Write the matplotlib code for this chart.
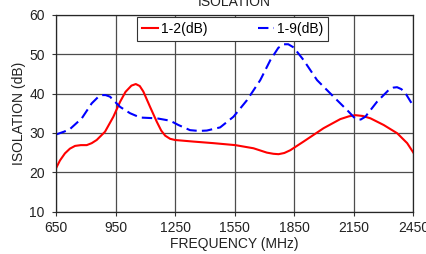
import matplotlib
matplotlib.use("Agg")
import matplotlib.pyplot as plt

# > Data
freq_12 = [650, 670, 695, 720, 746, 775, 805, 830, 855, 897, 939, 973, 1000,
           1030, 1052, 1072, 1090, 1124, 1158, 1180, 1200, 1225, 1250, 1342,
           1443, 1553, 1645, 1712, 1745, 1771, 1800, 1830, 1897, 1998, 2082,
           2125, 2158, 2195, 2234, 2301, 2369, 2419, 2450]
iso_12 = [21.0, 23.0, 24.8, 26.0, 26.7, 26.9, 26.9, 27.4, 28.2, 30.3, 34.1,
          37.9, 40.4, 42.0, 42.4, 41.9, 40.5, 36.6, 32.8, 30.6, 29.3, 28.5,
          28.2, 27.8, 27.4, 26.9, 26.1, 25.0, 24.7, 24.6, 24.9, 25.6, 27.8,
          31.2, 33.5, 34.2, 34.5, 34.3, 33.7, 32.0, 29.9, 27.4, 25.0]

freq_19 = [650, 690, 721, 780, 830, 860, 880, 900, 922, 973, 1023, 1074, 1158,
           1225, 1267, 1325, 1370, 1410, 1477, 1544, 1612, 1679, 1730, 1770,
           1797, 1820, 1847, 1897, 1965, 2048, 2124, 2150, 2166, 2185, 2208,
           2267, 2326, 2350, 2368, 2390, 2410, 2450]
iso_19 = [29.6, 30.3, 31.0, 33.7, 37.5, 39.0, 39.6, 39.6, 39.2, 36.6, 35.0,
          33.9, 33.7, 33.1, 32.0, 30.7, 30.5, 30.6, 31.4, 34.1, 38.3, 43.4,
          48.5, 51.6, 52.5, 52.5, 51.7, 48.5, 43.4, 39.2, 35.4, 34.0, 33.4,
          33.4, 34.1, 37.9, 40.9, 41.5, 41.6, 41.1, 40.1, 36.8]

x_ticks = [650, 950, 1250, 1550, 1850, 2150, 2450]
y_ticks = [10, 20, 30, 40, 50, 60]

plt.rcParams["font.family"] = ["Liberation Sans", "DejaVu Sans"]
plt.rcParams["font.size"] = 10

fig = plt.figure(figsize=(4.27, 2.54), dpi=100)
ax = fig.add_axes([0.1311, 0.1665, 0.8369, 0.7756])

ax.plot(freq_12, iso_12, color="#ff0000", lw=1.5, label="1-2(dB)")
ax.plot(freq_19, iso_19, color="#0000ff", lw=1.5, dashes=(5, 2.5), label="1-9(dB)")

ax.set_xlim(650, 2450)
ax.set_ylim(10, 60)
ax.set_xticks(x_ticks)
ax.set_yticks(y_ticks)
ax.grid(True, color="0.3", lw=0.9)
ax.set_axisbelow(True)
for s in ax.spines.values():
    s.set_color("0.15")
    s.set_linewidth(0.9)
ax.tick_params(direction="out", length=3, width=0.8, color="0.2", labelcolor="#222222")
ax.tick_params(axis="x", pad=4)
ax.tick_params(axis="y", pad=5)

ax.set_xlabel("FREQUENCY (MHz)", labelpad=1, color="#222222")
ax.set_ylabel("ISOLATION (dB)", labelpad=2, color="#222222")
ax.set_title("ISOLATION", pad=6, fontsize=10, color="#222222")

leg = ax.legend(loc="upper left", bbox_to_anchor=(0.226, 0.987), ncol=2,
                handlelength=1.2, handletextpad=0.2, columnspacing=3.6,
                borderpad=0.35, fancybox=False, framealpha=1, edgecolor="0.2",
                fontsize=10, borderaxespad=0)
leg.get_frame().set_linewidth(0.8)

fig.savefig("out.png", dpi=100)
